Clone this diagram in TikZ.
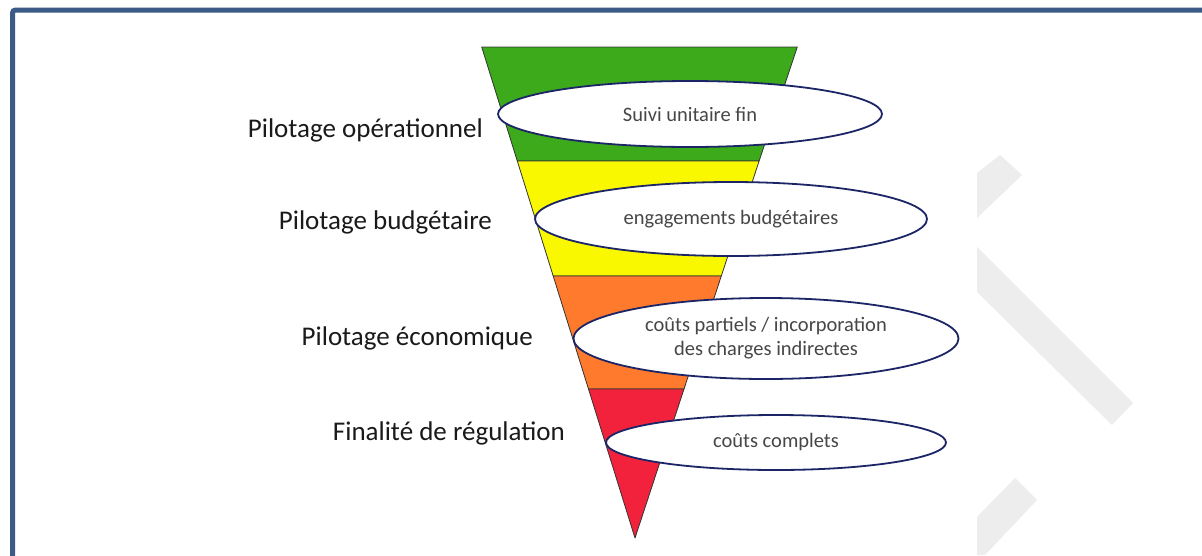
\documentclass[tikz,border=0pt]{standalone}
\usepackage{fontspec}
\setmainfont{Carlito}
\usetikzlibrary{shapes.geometric}
\definecolor{framecol}{HTML}{3D5B87}
\definecolor{fgreen}{HTML}{3DAA1C}
\definecolor{fyellow}{HTML}{FAF800}
\definecolor{forange}{HTML}{FF7A2C}
\definecolor{fred}{HTML}{F2223C}
\definecolor{ellline}{HTML}{1C2566}
\definecolor{elltext}{HTML}{474747}
\definecolor{wmark}{HTML}{EDEDED}
\definecolor{labtext}{HTML}{1A1A1A}
\tikzset{
  band/.style={draw=black!80, line width=0.8pt, line join=round},
  bubble/.style={ellipse, draw=ellline, fill=white, line width=1.8pt, inner sep=0pt,
     text=elltext, font=\fontsize{20.5}{24}\selectfont, align=center},
  levellabel/.style={anchor=base east, text=labtext, font=\fontsize{27}{30}\selectfont, inner sep=0pt},
  wmarkshape/.style={fill=wmark, draw=none}
}
\begin{document}
\begin{tikzpicture}[x=1pt,y=-1pt]
\useasboundingbox (0,0) rectangle (1202,555);
\fill[white] (0,0) rectangle (1202,555);
% watermark
\fill[wmarkshape] (977,173) -- (1000,155) -- (1022,175) -- (977,218) -- cycle;
\fill[wmarkshape] (977,247) -- (1133,403) -- (1112,425) -- (977,292) -- cycle;
\fill[wmarkshape] (977,517) -- (1015,478) -- (1037,500) -- (985,555) -- (977,555) -- cycle;
% frame
\draw[framecol, line width=5pt, rounded corners=3pt] (12.5,10) rectangle (1230,590);
% funnel coordinates
\coordinate (tl) at (481.7,47);
\coordinate (tr) at (797.3,47);
\coordinate (gl) at (517.3,161);
\coordinate (gr) at (759.1,161);
\coordinate (yl) at (553.2,276);
\coordinate (yr) at (721.3,276);
\coordinate (ol) at (588.5,389);
\coordinate (or) at (684.0,389);
\coordinate (apex) at (635,538);
\filldraw[band, fill=fgreen] (tl) -- (tr) -- (gr) -- (gl) -- cycle;
\filldraw[band, fill=fyellow] (gl) -- (gr) -- (yr) -- (yl) -- cycle;
\filldraw[band, fill=forange] (yl) -- (yr) -- (or) -- (ol) -- cycle;
\filldraw[band, fill=fred] (ol) -- (or) -- (apex) -- cycle;
% bubbles
\node[bubble, minimum width=384pt, minimum height=66pt] (b1) at (690,114) {Suivi unitaire fin};
\node[bubble, minimum width=392pt, minimum height=74pt] (b2) at (731,219) {engagements budgétaires};
\node[bubble, minimum width=385pt, minimum height=81pt] (b3) at (766,338.5) {coûts partiels / incorporation\\des charges indirectes};
\node[bubble, minimum width=340pt, minimum height=55pt] (b4) at (776,442.5) {coûts complets};
% level labels
\node[levellabel] (l1) at (483,137) {Pilotage opérationnel};
\node[levellabel] (l2) at (492,229) {Pilotage budgétaire};
\node[levellabel] (l3) at (533,345) {Pilotage économique};
\node[levellabel] (l4) at (565,440) {Finalité de régulation};
\end{tikzpicture}
\end{document}
